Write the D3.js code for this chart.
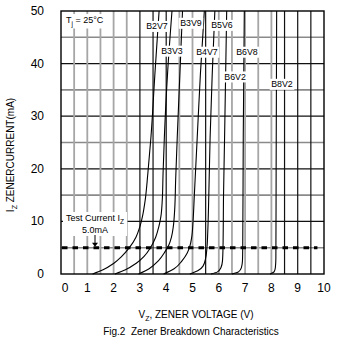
<!DOCTYPE html>
<html><head><meta charset="utf-8">
<script src="https://cdn.jsdelivr.net/npm/d3@7"></script>
<style>
body{margin:0;background:#fff}
text{font-family:"Liberation Sans",Arial,Helvetica,sans-serif;fill:#000}
</style>
</head><body>
<svg id="c" width="340" height="338"></svg>
<script>
// ---- data ----
const xTicks = [0,1,2,3,4,5,6,7,8,9,10];
const yTicks = [0,10,20,30,40,50];
const vGrid = [0.5,1,1.5,2,2.5,3,3.5,4,4.5,5,5.5,6,6.5,7,7.5,8,8.5,9,9.5];
const vGridDark = [0,0,0,0,0,1,1,1,0,0,1,0,0,0,0,0,1,1,1];
const hGrid = [5,10,15,20,25,30,35,40,45];
const testCurrent = 5;
const names = ["B2V7","B3V3","B3V9","B4V7","B5V6","B6V2","B6V8","B8V2"];
const curveV = [
  [1.2,1.6,2.0,2.3,2.6,2.85,3.0,3.1,3.2,3.3,3.42,3.57,3.73],
  [2.05,2.45,2.85,3.15,3.4,3.6,3.72,3.8,3.85,3.88,3.93,4.05,4.22],
  [2.95,3.35,3.7,3.95,4.1,4.2,4.27,4.32,4.36,4.42,4.52,4.62],
  [3.9,4.3,4.6,4.8,4.9,4.97,5.02,5.07,5.12,5.18,5.3,5.45],
  [4.9,5.2,5.4,5.5,5.55,5.58,5.62,5.67,5.75,5.85],
  [5.7,5.95,6.08,6.14,6.16,6.18,6.22,6.3],
  [6.5,6.75,6.86,6.9,6.91,6.93,6.97],
  [7.95,8.1,8.15,8.17,8.18,8.2]
];
const curveI = [
  [0,0.8,2,3.3,5,7,9,11,14,19,26,38,50],
  [0,0.8,2,3.3,5,7,9,11,14,19,26,38,50],
  [0,1,2.5,4.2,5.5,7,9,12,18,26,38,50],
  [0,1,2.5,4,5.3,7,10,15,20,26,38,50],
  [0,0.6,1.5,3,5,8,15,26,38,50],
  [0,0.4,1.2,2.5,5,15,26,50],
  [0,0.4,1.2,2.5,5,26,50],
  [0,0.4,1.2,3,20,50]
];
const labelV = [3.65,4.22,4.94,5.55,6.12,6.62,7.07,8.4];
const labelI = [47.1,42.4,47.7,42.2,47.3,37.5,42.2,36.1];

// ---- layout ----
const svg = d3.select("#c");
const L = 61, R = 324, T = 11, B = 274;
const x = d3.scaleLinear().domain([0,10]).range([L,R]);
const y = d3.scaleLinear().domain([0,50]).range([B,T]);

// grid
svg.append("g").selectAll("line").data(hGrid).join("line")
  .attr("x1",L).attr("x2",R).attr("y1",d=>y(d)).attr("y2",d=>y(d))
  .attr("stroke",d=>d%10===0?"#111":"#8a8a8a")
  .attr("stroke-width",d=>d%10===0?1.2:1.6);
svg.append("g").selectAll("line").data(vGrid).join("line")
  .attr("x1",d=>x(d)).attr("x2",d=>x(d)).attr("y1",T).attr("y2",B)
  .attr("stroke",(d,i)=>vGridDark[i]?"#111":"#a6a6a6")
  .attr("stroke-width",(d,i)=>vGridDark[i]?1.2:1.8);

// curves
const line = d3.line().x(d=>x(d[0])).y(d=>y(d[1])).curve(d3.curveMonotoneY);
names.forEach((n,k)=>{
  const pts = curveV[k].map((v,j)=>[v,curveI[k][j]]);
  svg.append("path").attr("d",line(pts)).attr("fill","none")
    .attr("stroke","#000").attr("stroke-width",1.1);
});

// test current dashed line
svg.append("line").attr("x1",x(0)+1).attr("x2",x(9.75)).attr("y1",y(testCurrent)).attr("y2",y(testCurrent))
  .attr("stroke","#000").attr("stroke-width",3).attr("stroke-dasharray","5.5,5");

// frame
svg.append("rect").attr("x",L).attr("y",T).attr("width",R-L).attr("height",B-T)
  .attr("fill","none").attr("stroke","#000").attr("stroke-width",1.4);

// curve labels with white boxes
names.forEach((n,k)=>{
  const g = svg.append("g");
  const t = g.append("text").attr("x",x(labelV[k])).attr("y",y(labelI[k])+3.2)
    .attr("text-anchor","middle").attr("font-size",8.8).text(n);
  const bb = t.node().getBBox();
  g.insert("rect","text").attr("x",bb.x-1.5).attr("y",bb.y-0.5).attr("width",bb.width+3).attr("height",bb.height+1).attr("fill","#fff");
});

// Tj label
const tj = svg.append("g");
const tjt = tj.append("text").attr("x",66).attr("y",23).attr("font-size",9);
tjt.append("tspan").text("T");
tjt.append("tspan").attr("font-size",6.5).attr("dy",2.5).text("j");
tjt.append("tspan").attr("dy",-2.5).text(" = 25°C");
{const bb=tjt.node().getBBox(); tj.insert("rect","text").attr("x",bb.x-2).attr("y",bb.y-1).attr("width",bb.width+4).attr("height",bb.height+2).attr("fill","#fff");}

// test current annotation
const ta = svg.append("g");
const t1 = ta.append("text").attr("x",95).attr("y",221).attr("text-anchor","middle").attr("font-size",9);
t1.append("tspan").text("Test Current I");
t1.append("tspan").attr("font-size",6.5).attr("dy",2.5).text("Z");
const t2 = ta.append("text").attr("x",95).attr("y",233).attr("text-anchor","middle").attr("font-size",9).text("5.0mA");
{const b1=t1.node().getBBox(), b2=t2.node().getBBox();
 const x0=Math.min(b1.x,b2.x)-3, x1=Math.max(b1.x+b1.width,b2.x+b2.width)+3;
 ta.insert("rect","text").attr("x",x0).attr("y",b1.y-1).attr("width",x1-x0).attr("height",b2.y+b2.height-b1.y+2).attr("fill","#fff");}
svg.append("line").attr("x1",95).attr("x2",95).attr("y1",235).attr("y2",y(testCurrent)-3)
  .attr("stroke","#000").attr("stroke-width",1);
svg.append("path").attr("d",`M92,${y(testCurrent)-5} L98,${y(testCurrent)-5} L95,${y(testCurrent)-1} Z`).attr("fill","#000");

// tick labels
svg.append("g").selectAll("text").data(xTicks).join("text")
  .attr("x",d=>x(d)+(d===0?4:0)).attr("y",292).attr("text-anchor","middle").attr("font-size",12).text(d=>d);
svg.append("g").selectAll("text").data(yTicks).join("text")
  .attr("x",44).attr("y",d=>y(d)+4).attr("text-anchor","end").attr("font-size",12).text(d=>d);

// axis titles
const xt = svg.append("text").attr("x",196).attr("y",318).attr("text-anchor","middle").attr("font-size",10);
xt.append("tspan").text("V");
xt.append("tspan").attr("font-size",7).attr("dy",2.5).text("Z");
xt.append("tspan").attr("dy",-2.5).text(", ZENER VOLTAGE (V)");
const yt = svg.append("text").attr("transform","translate(14,155) rotate(-90)").attr("text-anchor","middle").attr("font-size",10);
yt.append("tspan").text("I");
yt.append("tspan").attr("font-size",7).attr("dy",2.5).text("Z");
yt.append("tspan").attr("dy",-2.5).text(" ZENERCURRENT(mA)");

svg.append("text").attr("x",191).attr("y",335).attr("text-anchor","middle").attr("font-size",10)
  .attr("xml:space","preserve").style("white-space","pre")
  .text("Fig.2  Zener Breakdown Characteristics");
</script>
</body></html>
